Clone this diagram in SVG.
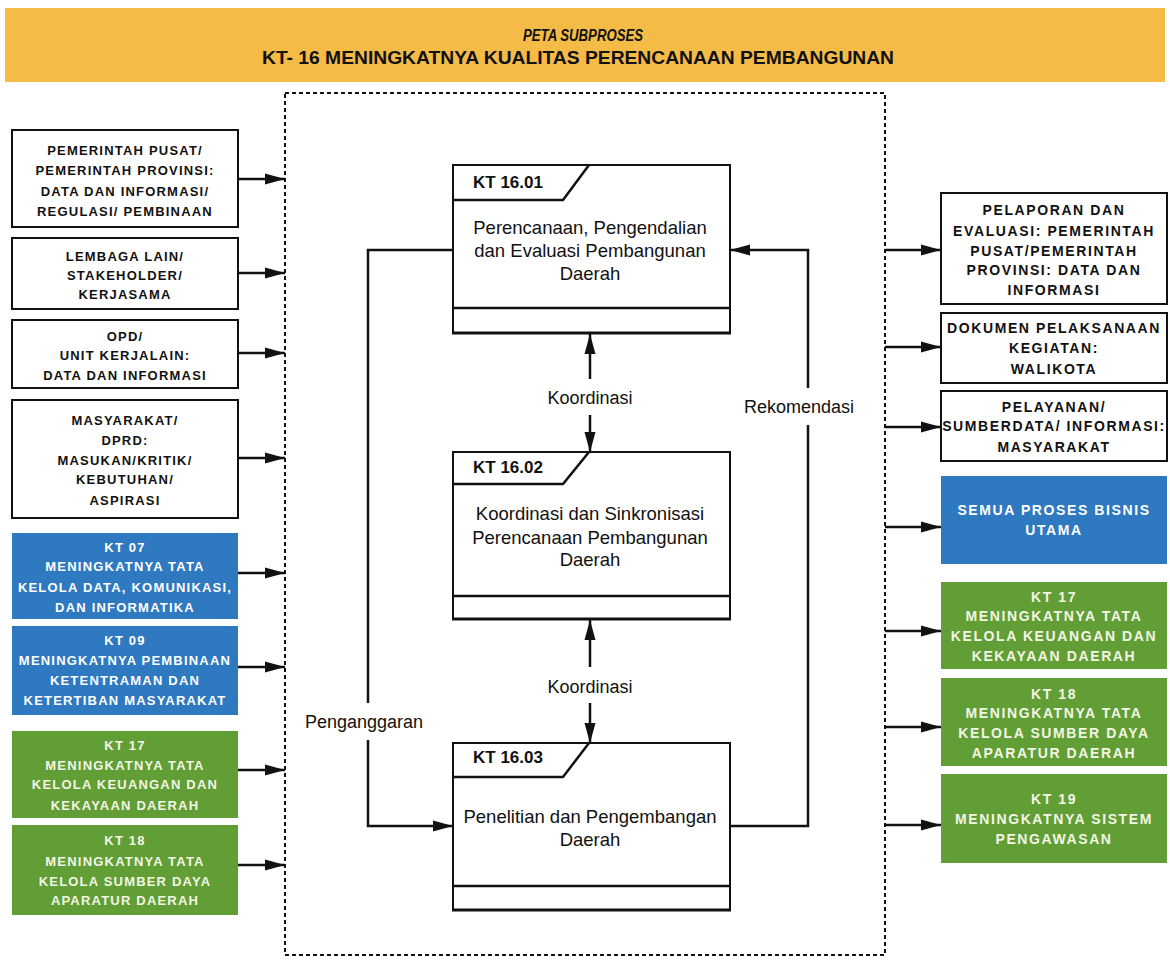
<svg xmlns="http://www.w3.org/2000/svg" width="1170" height="960" viewBox="0 0 1170 960">
<defs>
<style>
.lt{font-family:"Liberation Sans",Arial,sans-serif;font-weight:bold;font-size:13px;letter-spacing:1.2px;text-anchor:middle;fill:#111}
.rt{font-family:"Liberation Sans",Arial,sans-serif;font-weight:bold;font-size:14px;letter-spacing:1.6px;text-anchor:middle;fill:#111}
.wt{fill:#ffffff}
.gt{fill:#f3f6e4}
.wbox{fill:#ffffff;stroke:#111;stroke-width:2}
.bbox{fill:#2f79c1}
.gbox{fill:#619e36}
.pbox{fill:#ffffff;stroke:#111;stroke-width:2}
.kt{font-family:"Liberation Sans",Arial,sans-serif;font-weight:bold;font-size:17px;fill:#111}
.body{font-family:"Liberation Sans",Arial,sans-serif;font-size:18.5px;text-anchor:middle;fill:#111}
.lbl{font-family:"Liberation Sans",Arial,sans-serif;font-size:18px;text-anchor:middle;fill:#111}
.ln{fill:none;stroke:#111;stroke-width:2.5}
</style>
<marker id="ah" markerUnits="userSpaceOnUse" markerWidth="22" markerHeight="12" refX="20" refY="6" orient="auto">
<path d="M0,0.5 L20,6 L0,11.5 z" fill="#111"/>
</marker>
</defs>
<rect x="0" y="0" width="1170" height="960" fill="#ffffff"/>

<g id="header">
<rect x="5" y="8" width="1160" height="74" fill="#f5bb47"/>
<text x="583" y="41" font-family="Liberation Sans, Arial, sans-serif" font-weight="bold" font-style="italic" font-size="16" text-anchor="middle" textLength="120" lengthAdjust="spacingAndGlyphs" fill="#111">PETA SUBPROSES</text>
<text x="578" y="64" font-family="Liberation Sans, Arial, sans-serif" font-weight="bold" font-size="18" text-anchor="middle" textLength="632" lengthAdjust="spacingAndGlyphs" fill="#111">KT- 16 MENINGKATNYA KUALITAS PERENCANAAN PEMBANGUNAN</text>
</g>

<g id="boundary">
<rect x="285" y="93" width="600" height="862" fill="none" stroke="#111" stroke-width="2" stroke-dasharray="4 3"/>
</g>

<g id="in1"><rect class="wbox" x="12" y="130" width="226" height="97"/>
<text class="lt" x="125" y="155">PEMERINTAH PUSAT/</text>
<text class="lt" x="125" y="175">PEMERINTAH PROVINSI:</text>
<text class="lt" x="125" y="196">DATA DAN INFORMASI/</text>
<text class="lt" x="125" y="216">REGULASI/ PEMBINAAN</text></g>

<g id="in2"><rect class="wbox" x="12" y="238" width="226" height="71"/>
<text class="lt" x="125" y="261">LEMBAGA LAIN/</text>
<text class="lt" x="125" y="280">STAKEHOLDER/</text>
<text class="lt" x="125" y="299">KERJASAMA</text></g>

<g id="in3"><rect class="wbox" x="12" y="320" width="226" height="68"/>
<text class="lt" x="125" y="341">OPD/</text>
<text class="lt" x="125" y="360">UNIT KERJALAIN:</text>
<text class="lt" x="125" y="380">DATA DAN INFORMASI</text></g>

<g id="in4"><rect class="wbox" x="12" y="400" width="226" height="118"/>
<text class="lt" x="125" y="425">MASYARAKAT/</text>
<text class="lt" x="125" y="445">DPRD:</text>
<text class="lt" x="125" y="465">MASUKAN/KRITIK/</text>
<text class="lt" x="125" y="484">KEBUTUHAN/</text>
<text class="lt" x="125" y="505">ASPIRASI</text></g>

<g id="in5"><rect class="bbox" x="12" y="533" width="226" height="86"/>
<text class="lt wt" x="125" y="552">KT 07</text>
<text class="lt wt" x="125" y="571">MENINGKATNYA TATA</text>
<text class="lt wt" x="125" y="592">KELOLA DATA, KOMUNIKASI,</text>
<text class="lt wt" x="125" y="612">DAN INFORMATIKA</text></g>

<g id="in6"><rect class="bbox" x="12" y="626" width="226" height="89"/>
<text class="lt wt" x="125" y="645">KT 09</text>
<text class="lt wt" x="125" y="665">MENINGKATNYA PEMBINAAN</text>
<text class="lt wt" x="125" y="685">KETENTRAMAN DAN</text>
<text class="lt wt" x="125" y="705">KETERTIBAN MASYARAKAT</text></g>

<g id="in7"><rect class="gbox" x="12" y="731" width="226" height="87"/>
<text class="lt gt" x="125" y="750">KT 17</text>
<text class="lt gt" x="125" y="770">MENINGKATNYA TATA</text>
<text class="lt gt" x="125" y="789">KELOLA KEUANGAN DAN</text>
<text class="lt gt" x="125" y="810">KEKAYAAN DAERAH</text></g>

<g id="in8"><rect class="gbox" x="12" y="825" width="226" height="90"/>
<text class="lt gt" x="125" y="845">KT 18</text>
<text class="lt gt" x="125" y="866">MENINGKATNYA TATA</text>
<text class="lt gt" x="125" y="886">KELOLA SUMBER DAYA</text>
<text class="lt gt" x="125" y="905">APARATUR DAERAH</text></g>

<g id="out1"><rect class="wbox" x="941" y="193" width="226" height="111"/>
<text class="rt" x="1054" y="215">PELAPORAN DAN</text>
<text class="rt" x="1054" y="236">EVALUASI: PEMERINTAH</text>
<text class="rt" x="1054" y="256">PUSAT/PEMERINTAH</text>
<text class="rt" x="1054" y="275">PROVINSI: DATA DAN</text>
<text class="rt" x="1054" y="295">INFORMASI</text></g>

<g id="out2"><rect class="wbox" x="941" y="313" width="226" height="70"/>
<text class="rt" x="1054" y="333">DOKUMEN PELAKSANAAN</text>
<text class="rt" x="1054" y="353">KEGIATAN:</text>
<text class="rt" x="1054" y="374">WALIKOTA</text></g>

<g id="out3"><rect class="wbox" x="941" y="391" width="226" height="70"/>
<text class="rt" x="1054" y="412">PELAYANAN/</text>
<text class="rt" x="1054" y="431">SUMBERDATA/ INFORMASI:</text>
<text class="rt" x="1054" y="452">MASYARAKAT</text></g>

<g id="out4"><rect class="bbox" x="941" y="476" width="226" height="88"/>
<text class="rt wt" x="1054" y="515">SEMUA PROSES BISNIS</text>
<text class="rt wt" x="1054" y="535">UTAMA</text></g>

<g id="out5"><rect class="gbox" x="941" y="582" width="226" height="87"/>
<text class="rt gt" x="1054" y="602">KT 17</text>
<text class="rt gt" x="1054" y="621">MENINGKATNYA TATA</text>
<text class="rt gt" x="1054" y="641">KELOLA KEUANGAN DAN</text>
<text class="rt gt" x="1054" y="661">KEKAYAAN DAERAH</text></g>

<g id="out6"><rect class="gbox" x="941" y="678" width="226" height="88"/>
<text class="rt gt" x="1054" y="699">KT 18</text>
<text class="rt gt" x="1054" y="718">MENINGKATNYA TATA</text>
<text class="rt gt" x="1054" y="738">KELOLA SUMBER DAYA</text>
<text class="rt gt" x="1054" y="758">APARATUR DAERAH</text></g>

<g id="out7"><rect class="gbox" x="941" y="774" width="226" height="89"/>
<text class="rt gt" x="1054" y="804">KT 19</text>
<text class="rt gt" x="1054" y="824">MENINGKATNYA SISTEM</text>
<text class="rt gt" x="1054" y="844">PENGAWASAN</text></g>

<g id="kt1601">
<rect class="pbox" x="453" y="165" width="277" height="168"/>
<path class="ln" d="M453,200 L563,200 L589,165"/>
<line x1="453" y1="308" x2="730" y2="308" stroke="#111" stroke-width="2.5"/>
<line x1="452" y1="333" x2="731" y2="333" stroke="#111" stroke-width="3"/>
<text class="kt" x="473" y="188">KT 16.01</text>
<text class="body" x="590" y="234">Perencanaan, Pengendalian</text>
<text class="body" x="590" y="257">dan Evaluasi Pembangunan</text>
<text class="body" x="590" y="280">Daerah</text>
</g>

<g id="kt1602">
<rect class="pbox" x="453" y="452" width="277" height="167"/>
<path class="ln" d="M453,484 L563,484 L589,452"/>
<line x1="453" y1="596" x2="730" y2="596" stroke="#111" stroke-width="2.5"/>
<line x1="452" y1="619" x2="731" y2="619" stroke="#111" stroke-width="3"/>
<text class="kt" x="473" y="473">KT 16.02</text>
<text class="body" x="590" y="520">Koordinasi dan Sinkronisasi</text>
<text class="body" x="590" y="544">Perencanaan Pembangunan</text>
<text class="body" x="590" y="566">Daerah</text>
</g>

<g id="kt1603">
<rect class="pbox" x="453" y="743" width="277" height="167"/>
<path class="ln" d="M453,777 L563,777 L589,743"/>
<line x1="453" y1="886" x2="730" y2="886" stroke="#111" stroke-width="2.5"/>
<line x1="452" y1="910" x2="731" y2="910" stroke="#111" stroke-width="3"/>
<text class="kt" x="473" y="763">KT 16.03</text>
<text class="body" x="590" y="823">Penelitian dan Pengembangan</text>
<text class="body" x="590" y="846">Daerah</text>
</g>

<g id="connectors">
<line class="ln" x1="238" y1="179" x2="285" y2="179" marker-end="url(#ah)"/>
<line class="ln" x1="238" y1="273" x2="285" y2="273" marker-end="url(#ah)"/>
<line class="ln" x1="238" y1="353" x2="285" y2="353" marker-end="url(#ah)"/>
<line class="ln" x1="238" y1="458" x2="285" y2="458" marker-end="url(#ah)"/>
<line class="ln" x1="238" y1="573" x2="285" y2="573" marker-end="url(#ah)"/>
<line class="ln" x1="238" y1="667" x2="285" y2="667" marker-end="url(#ah)"/>
<line class="ln" x1="238" y1="770" x2="285" y2="770" marker-end="url(#ah)"/>
<line class="ln" x1="238" y1="865" x2="285" y2="865" marker-end="url(#ah)"/>

<line class="ln" x1="885" y1="250" x2="941" y2="250" marker-end="url(#ah)"/>
<line class="ln" x1="885" y1="347" x2="941" y2="347" marker-end="url(#ah)"/>
<line class="ln" x1="885" y1="427" x2="941" y2="427" marker-end="url(#ah)"/>
<line class="ln" x1="885" y1="527" x2="941" y2="527" marker-end="url(#ah)"/>
<line class="ln" x1="885" y1="631" x2="941" y2="631" marker-end="url(#ah)"/>
<line class="ln" x1="885" y1="727" x2="941" y2="727" marker-end="url(#ah)"/>
<line class="ln" x1="885" y1="825" x2="941" y2="825" marker-end="url(#ah)"/>

<line class="ln" x1="590" y1="379" x2="590" y2="334" marker-end="url(#ah)"/>
<line class="ln" x1="590" y1="415" x2="590" y2="452" marker-end="url(#ah)"/>
<line class="ln" x1="590" y1="667" x2="590" y2="620" marker-end="url(#ah)"/>
<line class="ln" x1="590" y1="703" x2="590" y2="743" marker-end="url(#ah)"/>

<polyline class="ln" points="453,250 368,250 368,703"/>
<polyline class="ln" points="368,740 368,826 453,826" marker-end="url(#ah)"/>
<polyline class="ln" points="730,826 808,826 808,425"/>
<polyline class="ln" points="808,388 808,250 730,250" marker-end="url(#ah)"/>

<text class="lbl" x="590" y="404">Koordinasi</text>
<text class="lbl" x="590" y="693">Koordinasi</text>
<text class="lbl" x="799" y="413">Rekomendasi</text>
<text class="lbl" x="364" y="728">Penganggaran</text>
</g>
</svg>
